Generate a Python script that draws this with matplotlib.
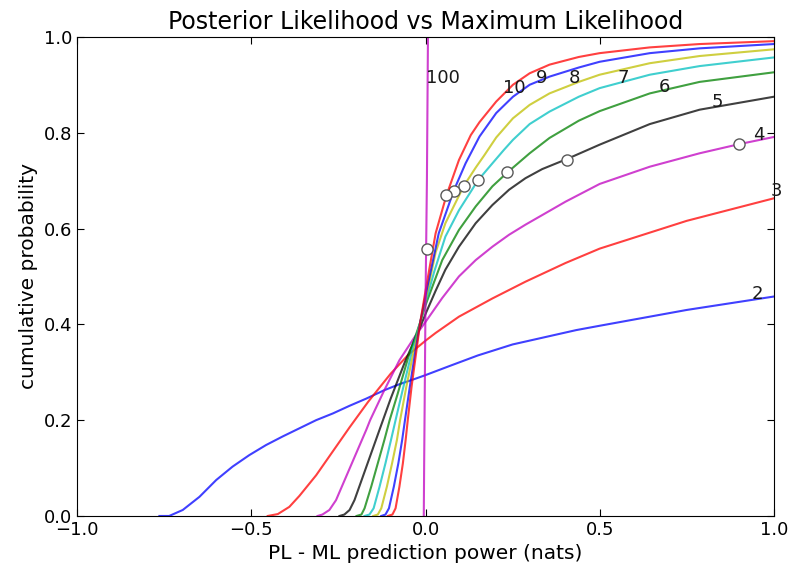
import numpy as np
import matplotlib
matplotlib.use('Agg')
import matplotlib.pyplot as plt

# curves: cumulative probability vs PL - ML difference
x2 = [-0.764, -0.736, -0.697, -0.649, -0.601, -0.554, -0.506, -0.458, -0.410, -0.362, -0.314, -0.266,
      -0.218, -0.170, -0.12, -0.075, -0.027, 0.0, 0.069, 0.15, 0.25, 0.433, 0.5, 0.75, 1.0]
y2 = [0.0, 0.0, 0.0125, 0.040, 0.075, 0.103, 0.127, 0.148, 0.166, 0.183, 0.200, 0.214,
      0.230, 0.245, 0.262, 0.275, 0.287, 0.294, 0.313, 0.335, 0.358, 0.388, 0.397, 0.430, 0.458]

x3 = [-0.453, -0.424, -0.391, -0.362, -0.314, -0.266, -0.218, -0.165, -0.132, -0.1, -0.05, 0.002,
      0.029, 0.096, 0.192, 0.287, 0.402, 0.5, 0.75, 1.0]
y3 = [0.0, 0.004, 0.019, 0.042, 0.085, 0.135, 0.185, 0.238, 0.268, 0.297, 0.336, 0.367,
      0.382, 0.416, 0.454, 0.489, 0.528, 0.558, 0.616, 0.663]

x4 = [-0.31, -0.296, -0.276, -0.257, -0.228, -0.199, -0.170, -0.159, -0.12, -0.075, -0.03, 0.0,
      0.048, 0.096, 0.144, 0.192, 0.240, 0.287, 0.335, 0.402, 0.5, 0.644, 0.787, 0.9, 1.0]
y4 = [0.0, 0.003, 0.0125, 0.033, 0.082, 0.131, 0.180, 0.200, 0.260, 0.325, 0.375, 0.405,
      0.455, 0.500, 0.534, 0.562, 0.587, 0.608, 0.628, 0.656, 0.693, 0.729, 0.757, 0.776, 0.791]

x5 = [-0.247, -0.233, -0.218, -0.204, -0.180, -0.156, -0.132, -0.1, -0.06, -0.015, 0.002, 0.029,
      0.057, 0.096, 0.144, 0.192, 0.240, 0.287, 0.335, 0.406, 0.5, 0.644, 0.787, 1.0]
y5 = [0.0, 0.003, 0.0125, 0.033, 0.082, 0.131, 0.180, 0.245, 0.320, 0.395, 0.425, 0.470,
      0.514, 0.562, 0.611, 0.649, 0.681, 0.705, 0.724, 0.745, 0.775, 0.818, 0.848, 0.875]

x6 = [-0.198, -0.184, -0.175, -0.156, -0.137, -0.118, -0.103, -0.08, -0.05, -0.015, 0.0, 0.048,
      0.096, 0.144, 0.192, 0.235, 0.299, 0.356, 0.44, 0.5, 0.644, 0.787, 1.0]
y6 = [0.0, 0.003, 0.016, 0.061, 0.110, 0.159, 0.200, 0.255, 0.330, 0.405, 0.440, 0.534,
      0.597, 0.646, 0.688, 0.717, 0.757, 0.789, 0.825, 0.845, 0.882, 0.906, 0.926]

x7 = [-0.175, -0.161, -0.149, -0.132, -0.115, -0.099, -0.086, -0.065, -0.04, -0.015, 0.0, 0.025,
      0.057, 0.096, 0.151, 0.192, 0.225, 0.251, 0.299, 0.356, 0.44, 0.5, 0.644, 0.787, 1.0]
y7 = [0.0, 0.003, 0.016, 0.061, 0.110, 0.159, 0.200, 0.265, 0.340, 0.405, 0.445, 0.510,
      0.583, 0.638, 0.701, 0.736, 0.764, 0.785, 0.818, 0.844, 0.875, 0.893, 0.921, 0.939, 0.957]

x8 = [-0.150, -0.137, -0.127, -0.111, -0.096, -0.082, -0.073, -0.055, -0.035, -0.015, 0.0, 0.029,
      0.057, 0.110, 0.144, 0.168, 0.203, 0.251, 0.299, 0.356, 0.44, 0.5, 0.644, 0.787, 1.0]
y8 = [0.0, 0.003, 0.016, 0.061, 0.110, 0.159, 0.200, 0.270, 0.340, 0.405, 0.450, 0.550,
      0.611, 0.689, 0.727, 0.752, 0.790, 0.830, 0.858, 0.882, 0.906, 0.921, 0.945, 0.960, 0.974]

x9 = [-0.127, -0.115, -0.105, -0.091, -0.078, -0.067, -0.059, -0.045, -0.03, -0.015, 0.0, 0.038,
      0.081, 0.115, 0.155, 0.203, 0.251, 0.299, 0.356, 0.44, 0.5, 0.644, 0.787, 1.0]
y9 = [0.0, 0.003, 0.016, 0.061, 0.110, 0.159, 0.200, 0.270, 0.340, 0.405, 0.460, 0.590,
      0.679, 0.736, 0.792, 0.841, 0.875, 0.900, 0.917, 0.936, 0.948, 0.966, 0.976, 0.985]

x10 = [-0.108, -0.095, -0.086, -0.075, -0.065, -0.057, -0.051, -0.04, -0.027, -0.015, 0.0, 0.029,
       0.060, 0.096, 0.13, 0.155, 0.203, 0.251, 0.299, 0.356, 0.44, 0.5, 0.644, 0.787, 1.0]
y10 = [0.0, 0.003, 0.016, 0.061, 0.110, 0.159, 0.200, 0.270, 0.340, 0.405, 0.470, 0.590,
       0.669, 0.743, 0.795, 0.822, 0.865, 0.900, 0.924, 0.942, 0.958, 0.966, 0.978, 0.985, 0.991]

x100 = [-0.005, -0.004, 0.0, 0.004, 0.007]
y100 = [0.0, 0.1, 0.45, 0.7, 1.0]

names = ['2', '3', '4', '5', '6', '7', '8', '9', '10', '100']
xs = [x2, x3, x4, x5, x6, x7, x8, x9, x10, x100]
ys = [y2, y3, y4, y5, y6, y7, y8, y9, y10, y100]
colors = ['b', 'r', 'm', 'k', 'g', 'c', 'y', 'b', 'r', 'm']

# circle markers (None where it falls outside the view)
mark_x = [None, None, 0.900, 0.406, 0.234, 0.152, 0.110, 0.081, 0.060, 0.003]
mark_y = [None, None, 0.776, 0.742, 0.717, 0.701, 0.689, 0.679, 0.669, 0.557]

# where the number labels sit
lab_x = [0.936, 0.990, 0.941, 0.821, 0.670, 0.550, 0.411, 0.318, 0.222, 0.0]
lab_y = [0.452, 0.667, 0.785, 0.853, 0.884, 0.903, 0.903, 0.903, 0.882, 0.904]

fig = plt.figure(figsize=(7.88, 5.67), dpi=100)
ax = fig.add_axes([0.098, 0.09, 0.884, 0.845])

for i in range(len(names)):
    ax.plot(xs[i], ys[i], color=colors[i], alpha=0.75, linewidth=1.5)
    if mark_x[i] is not None:
        ax.plot(mark_x[i], mark_y[i], 'o', mfc='w', mec='0.35', ms=8, mew=1.0)
    ax.text(lab_x[i], lab_y[i], names[i], fontsize=13, color='0.1')

ax.set_xlim(-1, 1)
ax.set_ylim(0, 1)
ax.set_xticks([-1.0, -0.5, 0.0, 0.5, 1.0])
ax.set_yticks([0.0, 0.2, 0.4, 0.6, 0.8, 1.0])
ax.tick_params(direction='in', top=True, right=True, labelsize=13, length=5)
ax.set_xlabel('PL - ML prediction power (nats)', fontsize=14.5)
ax.set_ylabel('cumulative probability', fontsize=14.5)
ax.set_title('Posterior Likelihood vs Maximum Likelihood', fontsize=17)

plt.savefig('out.png', dpi=100)
